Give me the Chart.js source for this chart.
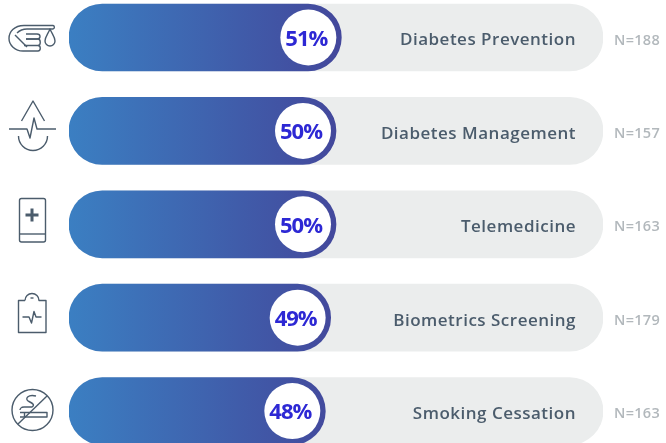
<!DOCTYPE html>
<html>
<head>
<meta charset="utf-8">
<script src="https://cdn.jsdelivr.net/npm/chart.js@4"></script>
<style>
  html, body { margin: 0; padding: 0; background: #fff; overflow: hidden; height: 443px; }
  canvas { display: block; position: absolute; left: 0; top: -10px; }
</style>
</head>
<body>
<canvas id="myChart" width="666" height="470"></canvas>
<script>
const categories = ["Diabetes Prevention", "Diabetes Management", "Telemedicine", "Biometrics Screening", "Smoking Cessation"];
const percents = [51, 50, 50, 49, 48];
const totals = [100, 100, 100, 100, 100];
const counts = ["N=188", "N=157", "N=163", "N=179", "N=163"];

// icon outlines, one list of svg paths per row
const icons = [
  ["M53 29a1.8 1.8 0 0 0 0-3.500H24C14 25.500 9 32 9 38.500C9 45 15 51 23 51H38C41 51 41 45.500 38 45.500H24",
   "M53 29H27C22 29 19 31 17 33", "M15 35L27 47", "M26 34H37C41 34 41 39 37 39H26", "M26 39H38C41 39 41 45.500 38 45.500",
   "M50 29C48 34 45 37 45 41a5 5 0 0 0 10 0C55 37 52 34 50 29Z"],
  ["M21.500 121L33 101L44.500 121", "M9 129H27L30 138L34 118L37 129H56", "M18.500 136A14.500 14.500 0 0 0 47.500 136"],
  ["M21.500 198.500H43.500a2 2 0 0 1 2 2V240a2 2 0 0 1-2 2H21.500a2 2 0 0 1-2-2V200.500a2 2 0 0 1 2-2Z", "M19.500 234H45.500"],
  ["M25 300.500H18.500V332.500H46V300.500H39A7 7 0 0 0 25 300.500", "M30.500 298H33.500", "M22.500 317H29L31.500 323L34 311.500L36 317H41.500"],
  ["M53 410A20.500 20.500 0 1 1 12 410A20.500 20.500 0 1 1 53 410", "M18 424L47 396", "M20 412.500H47V417H20", "M24.500 412.500V417",
   "M36 396C28 394 24 399 29 401.500C33 403.500 35 405 32 407H24C21 407 20 409 20 410"]
];
const plusMark = "M32 208.500V221.500M25.500 215H38.500";

function blueFill(ctx) {
  const area = ctx.chart.chartArea;
  if (!area) return "#4050a0";
  const xScale = ctx.chart.scales.x;
  const g = ctx.chart.ctx.createLinearGradient(xScale.getPixelForValue(0), 0, xScale.getPixelForValue(percents[0]), 0);
  g.addColorStop(0, "#3b7fc2");
  g.addColorStop(1, "#43479b");
  return g;
}

const rowLabels = {
  id: "rowLabels",
  afterDatasetsDraw(chart) {
    const c = chart.ctx;
    const bars = chart.getDatasetMeta(0).data;
    c.save();
    bars.forEach((bar, i) => {
      // white disc sits inside the round end of the blue bar
      const cx = bar.x - 33;
      c.fillStyle = "#fff";
      c.beginPath();
      c.arc(cx, bar.y, 28, 0, Math.PI * 2);
      c.fill();

      c.textBaseline = "middle";
      c.textAlign = "center";
      c.fillStyle = "#2d28d4";
      c.font = "700 22px 'Open Sans'";
      c.letterSpacing = "-1px";
      c.fillText(percents[i] + "%", cx - 2, bar.y + 2);

      c.textAlign = "right";
      c.fillStyle = "#4b5c6c";
      c.font = "600 17px 'Open Sans'";
      c.letterSpacing = "0.5px";
      c.fillText(categories[i], 576, bar.y + 3);

      c.textAlign = "left";
      c.fillStyle = "#b2b8bc";
      c.font = "600 14.500px 'Open Sans'";
      c.letterSpacing = "0.3px";
      c.fillText(counts[i], 614, bar.y + 3);
    });
    // icons are traced in page coordinates, canvas starts 10px above the page
    c.translate(0, 10);
    c.strokeStyle = "#4b5c6c";
    c.lineWidth = 1.4;
    c.lineJoin = "round";
    icons.forEach(parts => parts.forEach(d => c.stroke(new Path2D(d))));
    c.lineWidth = 3;
    c.stroke(new Path2D(plusMark));
    c.restore();
  }
};

let config = {
  type: "bar",
  data: {
    labels: categories,
    datasets: [
      {
        label: "Percent",
        data: percents,
        backgroundColor: blueFill,
        barThickness: 67,
        borderRadius: 33.5,
        borderSkipped: false,
        order: 1,
      },
      {
        label: "Track",
        data: totals,
        backgroundColor: "#ebeded",
        barThickness: 67,
        borderRadius: 33.5,
        borderSkipped: false,
        order: 2,
      },
    ],
  },
  options: {
    indexAxis: "y",
    responsive: false,
    animation: false,
    layout: { padding: { left: 69, right: 63, top: 0.8, bottom: 2.2 } },
    plugins: { legend: { display: false }, tooltip: { enabled: false } },
    datasets: { bar: { grouped: false } },
    scales: {
      x: { display: false, min: 0, max: 100 },
      y: { display: false },
    },
  },
  plugins: [rowLabels],
};

var myChart = new Chart(document.getElementById("myChart"), config);
</script>
</body>
</html>
